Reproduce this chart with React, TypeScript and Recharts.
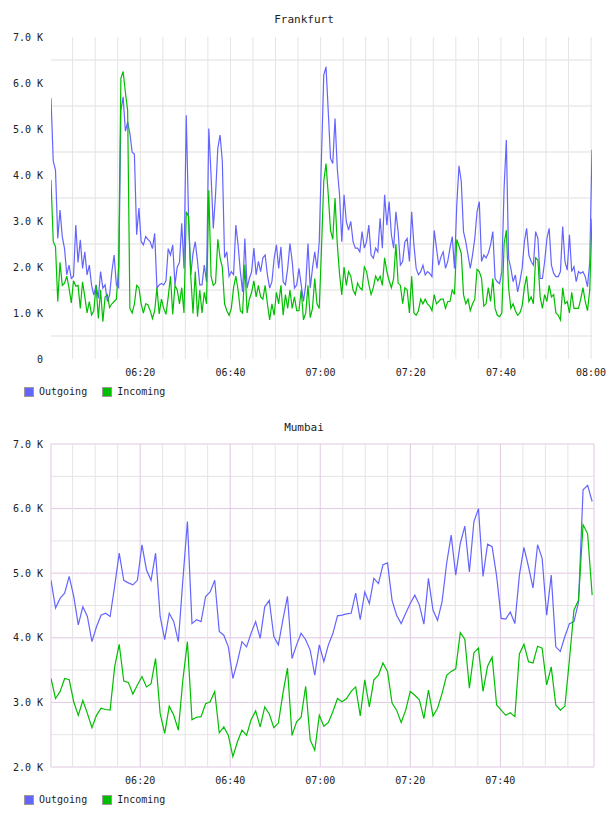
import React from 'react';
import { LineChart, Line, XAxis, YAxis, ReferenceLine } from 'recharts';

const FONT = '"DejaVu Sans Mono", "Liberation Mono", monospace';
const OUT_COLOR = '#6464ff';
const IN_COLOR = '#00be00';

// Frankfurt: one sample every 30 s from 06:00 (minutes), values in K
const frankfurtStart = 0.2;
const frankfurtStep = 0.5;
const frankfurtOutgoing = [
  5.67, 4.3, 4.1, 2.62, 3.24, 2.66, 2.4, 1.83, 2.04, 1.75,
  1.8, 2.91, 2.1, 2.59, 1.97, 2.33, 1.83, 2.04, 1.6, 1.39,
  1.61, 1.32, 1.9, 1.54, 1.61, 1.25, 1.39, 1.9, 2.26, 1.61,
  1.55, 5.4, 5.7, 4.95, 5.15, 4.9, 4.5, 4.45, 2.7, 3.28,
  2.55, 2.48, 2.66, 2.6, 2.55, 2.4, 2.73, 1.54, 1.61, 1.64,
  1.61, 1.7, 2.4, 2.26, 2.48, 1.61, 2.0, 2.1, 2.95, 1.97,
  5.3, 3.13, 1.83, 2.3, 2.55, 2.12, 1.61, 1.61, 2.04, 1.68,
  5.01, 4.0, 2.84, 3.57, 4.58, 4.87, 4.3, 2.2, 2.33, 1.8,
  1.9, 1.83, 2.91, 2.48, 1.9, 1.46, 2.62, 1.54, 1.75, 1.9,
  2.41, 1.83, 2.12, 1.9, 2.2, 2.26, 1.83, 1.54, 1.68, 2.19,
  2.48, 1.97, 2.44, 1.68, 1.61, 1.97, 2.51, 2.12, 1.54, 1.61,
  1.97, 1.61, 1.25, 1.61, 2.51, 1.54, 1.97, 2.33, 1.97, 2.55,
  4.4, 6.17, 6.35, 5.38, 4.36, 4.25, 5.23, 4.14, 3.57, 2.55,
  3.57, 2.99, 2.8, 2.99, 2.55, 2.41, 2.41, 2.33, 2.77, 2.41,
  2.55, 2.91, 2.26, 2.19, 2.41, 2.33, 3.06, 2.41, 3.57, 2.91,
  3.42, 2.7, 2.41, 3.2, 2.77, 2.04, 2.12, 2.55, 2.62, 2.12,
  3.2, 2.48, 1.97, 1.83, 1.9, 2.04, 1.83, 1.9, 1.86, 1.79,
  2.8, 2.41, 2.04, 2.22, 2.33, 1.97, 2.12, 2.41, 2.66, 1.97,
  3.35, 4.2, 3.86, 2.77, 2.55, 2.26, 1.97, 2.26, 2.62, 3.2,
  3.42, 2.12, 2.26, 2.2, 2.3, 2.48, 2.77, 1.75, 1.68, 1.64,
  1.9, 3.71, 4.76, 2.19, 1.97, 1.68, 1.83, 1.46, 1.68, 1.97,
  2.55, 2.84, 2.26, 2.12, 2.04, 2.77, 2.62, 1.75, 1.75, 2.12,
  2.62, 2.84, 2.04, 1.86, 1.79, 1.79, 1.9, 2.88, 2.12, 1.93,
  2.7, 1.9, 2.01, 1.68, 1.9, 1.86, 1.9, 1.79, 1.57, 2.1,
  4.55,
];
const frankfurtIncoming = [
  3.89, 2.55, 2.44, 1.25, 2.1, 1.6, 1.65, 1.8, 1.54, 1.22,
  1.7, 1.58, 1.6, 1.1, 1.68, 1.35, 1.0, 1.25, 0.96, 1.05,
  1.6, 0.88, 1.5, 0.81, 1.35, 1.4, 1.12, 1.2, 1.25, 1.3,
  2.0, 6.1, 6.25, 5.8, 5.4, 1.1, 1.0, 1.2, 1.6, 1.55,
  1.2, 1.0, 1.2, 1.18, 1.05, 0.88, 1.05, 1.55, 0.98, 1.3,
  1.1, 0.97, 1.35, 1.8, 0.97, 1.6, 1.5, 1.2, 1.55, 1.0,
  3.2, 3.1, 1.8, 0.99, 1.9, 0.92, 1.5, 1.0, 1.45, 1.2,
  3.67, 1.8, 1.6, 1.65, 2.6, 2.2, 2.0, 1.2, 1.05, 0.95,
  1.1, 1.55, 1.8, 1.5, 1.05, 1.0, 2.05, 1.0, 1.3, 1.45,
  1.7, 1.35, 1.6, 1.35, 1.3, 1.6, 1.2, 0.85, 1.2, 0.95,
  1.45, 1.2, 1.6, 0.95, 1.4, 1.1, 1.5, 1.1, 1.35, 1.05,
  1.05, 1.5, 0.85, 1.0, 1.6, 0.9, 1.1, 1.75, 1.2, 1.1,
  2.4, 3.86, 4.25, 3.57, 2.8, 2.6, 3.5, 2.5, 1.85, 1.39,
  2.0, 1.6, 1.9, 1.8, 1.5, 1.4, 1.65, 1.55, 1.5, 2.0,
  1.9, 1.62, 1.4, 1.55, 1.8, 1.7, 1.8, 1.6, 2.2, 1.9,
  1.7, 1.55, 1.75, 2.5, 1.65, 1.6, 1.2, 1.55, 1.5, 1.0,
  1.8, 1.0, 0.95, 1.05, 1.3, 1.2, 1.3, 1.2, 1.15, 1.05,
  1.4, 1.2, 1.25, 1.3, 1.3, 1.1, 1.25, 1.25, 1.5, 1.4,
  2.6, 2.45, 2.3, 1.4, 1.2, 1.3, 1.05, 1.2, 1.3, 1.95,
  1.9, 1.75, 1.15, 1.2, 1.55, 1.25, 1.75, 1.1, 0.95, 0.92,
  1.0, 2.5, 2.8, 1.55, 1.1, 1.2, 1.05, 0.95, 1.0, 1.15,
  1.55, 1.8, 1.25, 1.35, 1.2, 2.2, 2.15, 1.35, 1.1, 1.4,
  1.25, 1.6, 1.35, 1.4, 1.0, 0.95, 0.85, 1.55, 1.2, 1.25,
  1.0, 1.45, 1.1, 1.1, 1.1, 1.3, 1.55, 1.25, 1.05, 1.5,
  3.05,
];

// Mumbai: about one sample a minute
const mumbaiStart = 0.2;
const mumbaiStep = 1.01;
const mumbaiOutgoing = [
  4.89, 4.46, 4.61, 4.69, 4.95, 4.64, 4.2, 4.48, 4.33, 3.94,
  4.17, 4.35, 4.38, 4.33, 4.8, 5.31, 4.89, 4.85, 4.82, 4.89,
  5.44, 5.05, 4.89, 5.31, 4.33, 3.97, 4.38, 4.25, 3.94, 4.9,
  5.8, 4.22, 4.28, 4.25, 4.64, 4.71, 4.89, 4.1, 4.04, 3.86,
  3.37, 3.63, 3.94, 3.86, 4.07, 4.25, 3.99, 4.48, 4.58, 4.02,
  3.89, 4.28, 4.64, 3.68, 3.89, 4.07, 3.97, 3.81, 3.42, 3.89,
  3.63, 3.89, 4.07, 4.34, 4.35, 4.37, 4.38, 4.69, 4.28, 4.71,
  4.53, 4.92, 4.84, 5.13, 5.16, 4.58, 4.35, 4.22, 4.38, 4.53,
  4.66, 4.51, 4.21, 4.92, 4.43, 4.27, 4.56, 5.15, 5.59, 4.97,
  5.46, 5.73, 5.02, 5.8, 6.0, 4.95, 5.45, 5.41, 4.95, 4.3,
  4.29, 4.4, 4.22, 4.97, 5.4, 5.1, 4.77, 5.44, 5.23, 4.35,
  4.97, 3.86, 3.79, 4.02, 4.22, 4.25, 4.55, 6.29, 6.36, 6.11,
];
const mumbaiIncoming = [
  3.37, 3.06, 3.17, 3.37, 3.35, 3.01, 2.8, 3.03, 2.83, 2.61,
  2.8, 2.91, 2.89, 2.88, 3.55, 3.9, 3.33, 3.31, 3.13, 3.27,
  3.4, 3.24, 3.29, 3.68, 2.83, 2.52, 2.94, 2.8, 2.57, 3.35,
  3.94, 2.73, 2.77, 2.78, 2.98, 3.01, 3.17, 2.53, 2.62, 2.49,
  2.16, 2.39, 2.57, 2.49, 2.73, 2.87, 2.62, 2.93, 2.82, 2.61,
  2.68, 3.14, 3.53, 2.49, 2.7, 2.77, 3.25, 2.42, 2.26, 2.8,
  2.63, 2.69, 2.86, 3.06, 3.01, 3.06, 3.17, 3.24, 2.79, 3.35,
  2.93, 3.35, 3.42, 3.61, 3.48, 2.99, 2.88, 2.69, 2.88, 3.17,
  3.11, 3.04, 2.75, 3.19, 2.79, 2.91, 3.14, 3.42, 3.48, 3.52,
  4.08, 3.98, 3.22, 3.77, 3.84, 3.17, 3.56, 3.7, 2.96, 2.88,
  2.8, 2.84, 2.78, 3.75, 3.9, 3.63, 3.61, 3.87, 3.84, 3.27,
  3.55, 2.96, 2.88, 2.94, 3.66, 4.43, 4.58, 5.75, 5.61, 4.66,
];

const frankfurtTimeTicks = [20, 40, 60, 80, 100, 120];
const mumbaiTimeTicks = [20, 40, 60, 80, 100];
const frankfurtValueTicks = [0, 1, 2, 3, 4, 5, 6, 7];
const mumbaiValueTicks = [2, 3, 4, 5, 6, 7];
const seriesNames = ['Outgoing', 'Incoming'];

const buildRows = (start: number, step: number, out: number[], inc: number[]) =>
  out.map((v, i) => ({ t: start + i * step, out: v, inc: inc[i] }));

const frankfurtRows = buildRows(frankfurtStart, frankfurtStep, frankfurtOutgoing, frankfurtIncoming);
const mumbaiRows = buildRows(mumbaiStart, mumbaiStep, mumbaiOutgoing, mumbaiIncoming);

const range = (from: number, to: number, step: number) => {
  const r: number[] = [];
  for (let v = from; v <= to + 1e-9; v += step) r.push(v);
  return r;
};

const pad = (n: number) => String(n).padStart(2, '0');
const fmtTime = (m: number) => `${pad(6 + Math.floor(m / 60))}:${pad(Math.round(m % 60))}`;
const fmtK = (v: number) => (v === 0 ? '0' : `${v.toFixed(1)} K`);

const tickStyle = { fontFamily: FONT, fontSize: 10, fill: '#222' };

type GridLine = { v: number; color: string; width: number };

interface PanelProps {
  title: string;
  top: number;
  rows: { t: number; out: number; inc: number }[];
  xDomain: [number, number];
  xTicks: number[];
  yDomain: [number, number];
  yTicks: number[];
  vLines: GridLine[];
  hLines: GridLine[];
  marginRight: number;
  marginTop: number;
}

const Legend = () => (
  <div
    style={{
      position: 'absolute', left: 24, top: 387, height: 10, display: 'flex',
      alignItems: 'center', fontFamily: FONT, fontSize: 10, lineHeight: '10px', color: '#222',
    }}
  >
    {seriesNames.map((name, i) => (
      <span key={name} style={{ display: 'flex', alignItems: 'center', marginRight: 15 }}>
        <span
          style={{
            display: 'inline-block', width: 8, height: 8, border: '1px solid #999',
            background: i === 0 ? OUT_COLOR : IN_COLOR, marginRight: 5,
          }}
        />
        {name}
      </span>
    ))}
  </div>
);

const Panel: React.FC<PanelProps> = ({
  title, top, rows, xDomain, xTicks, yDomain, yTicks, vLines, hLines, marginRight, marginTop,
}) => (
  <div style={{ position: 'absolute', left: 0, top, width: 608, height: 400 }}>
    <div
      style={{
        position: 'absolute', left: 0, top: 13, width: 608, textAlign: 'center',
        fontFamily: FONT, fontSize: 11, lineHeight: '14px', color: '#222',
      }}
    >
      {title}
    </div>
    <LineChart
      width={608}
      height={400}
      data={rows}
      margin={{ top: marginTop, right: marginRight, bottom: 11, left: 0 }}
    >
      <XAxis
        type="number"
        dataKey="t"
        domain={xDomain}
        allowDataOverflow
        ticks={xTicks}
        interval={0}
        tickFormatter={fmtTime}
        axisLine={false}
        tickLine={false}
        tickSize={0}
        tickMargin={10}
        height={30}
        tick={tickStyle}
      />
      <YAxis
        type="number"
        domain={yDomain}
        allowDataOverflow
        ticks={yTicks}
        interval={0}
        tickFormatter={fmtK}
        axisLine={false}
        tickLine={false}
        tickSize={0}
        tickMargin={8}
        width={51}
        tick={tickStyle}
      />
      {hLines.map((g) => (
        <ReferenceLine key={`h${g.v}`} y={g.v} stroke={g.color} strokeWidth={g.width} zIndex={-50} />
      ))}
      {vLines.map((g) => (
        <ReferenceLine key={`v${g.v}`} x={g.v} stroke={g.color} strokeWidth={g.width} zIndex={-50} />
      ))}
      <Line
        type="linear"
        dataKey="out"
        stroke={OUT_COLOR}
        strokeWidth={1.2}
        dot={false}
        isAnimationActive={false}
      />
      <Line
        type="linear"
        dataKey="inc"
        stroke={IN_COLOR}
        strokeWidth={1.2}
        dot={false}
        isAnimationActive={false}
      />
    </LineChart>
    <Legend />
  </div>
);

const PURPLE = '#e2c8e2';
const GREY = '#e4e4e4';

const frankfurtV: GridLine[] = range(5, 120, 5).map((v) => ({ v, color: GREY, width: 1 }));
const frankfurtH: GridLine[] = range(0.5, 6.5, 1).map((v) => ({ v, color: '#efefef', width: 2 }));

const mumbaiV: GridLine[] = [
  { v: 0.2, color: PURPLE, width: 1 },
  ...range(5, 115, 5).map((v) => ({ v, color: v % 20 === 0 ? PURPLE : GREY, width: 1 })),
  { v: 120.8, color: PURPLE, width: 1 },
];
const mumbaiH: GridLine[] = range(2, 7, 0.5).map((v) => ({
  v, color: v % 1 === 0 ? PURPLE : GREY, width: 1,
}));

export default function App() {
  return (
    <div style={{ position: 'absolute', left: 0, top: 0, width: 608, height: 816, background: '#fff' }}>
      <Panel
        title="Frankfurt"
        top={0}
        rows={frankfurtRows}
        xDomain={[0.2, 120.2]}
        xTicks={frankfurtTimeTicks}
        yDomain={[0, 7]}
        yTicks={frankfurtValueTicks}
        vLines={frankfurtV}
        hLines={frankfurtH}
        marginRight={16}
        marginTop={37}
      />
      <Panel
        title="Mumbai"
        top={408}
        rows={mumbaiRows}
        xDomain={[0.2, 120.8]}
        xTicks={mumbaiTimeTicks}
        yDomain={[2, 7]}
        yTicks={mumbaiValueTicks}
        vLines={mumbaiV}
        hLines={mumbaiH}
        marginRight={14}
        marginTop={36}
      />
    </div>
  );
}
